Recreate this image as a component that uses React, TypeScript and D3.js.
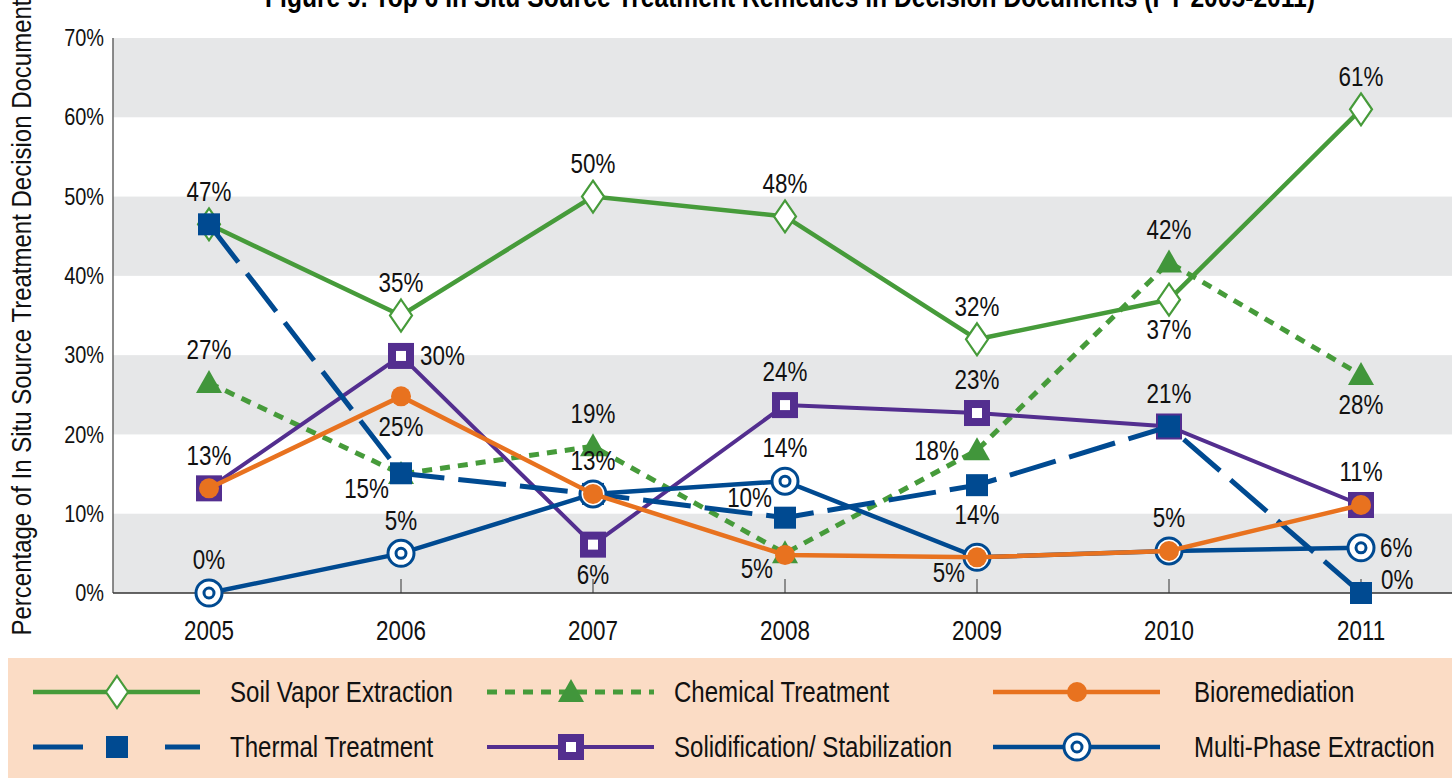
import React from "react"
import * as d3 from "d3"

// categories / ticks
const years = ["2005", "2006", "2007", "2008", "2009", "2010", "2011"]
const yTicks = [0, 10, 20, 30, 40, 50, 60, 70]

// series values (percent), point labels and where each label sits
const sveValues = [46.5, 35, 50, 47.5, 32, 37, 61]
const sveLabels = ["47%", "35%", "50%", "48%", "32%", "37%", "61%"]
const sveLabelPos = ["t", "t", "t", "t", "t", "b", "t"]

const chemValues = [26.5, 15, 18.5, 5, 18, 41.7, 27.5]
const chemLabels = ["27%", "15%", "19%", "5%", "18%", "42%", "28%"]
const chemLabelPos = ["t", "lb", "t", "lb", "l", "t", "b"]

const bioValues = [13.2, 24.8, 12.5, 4.8, 4.5, 5.3, 11.1]
const bioLabels = ["13%", "25%", "13%", null, "5%", null, null]
const bioLabelPos = ["t", "b", "t", null, "lb", null, null]

const thermalValues = [46.5, 15.1, 12.5, 9.5, 13.6, 21, 0]
const thermalLabels = [null, null, null, "10%", "14%", null, "0%"]
const thermalLabelPos = [null, null, null, "lt", "b", null, "rt"]

const solidValues = [13.2, 29.9, 6.1, 23.7, 22.7, 21, 11.1]
const solidLabels = [null, "30%", "6%", "24%", "23%", "21%", "11%"]
const solidLabelPos = [null, "r", "b", "t", "t", "t", "t"]

const mpeValues = [0, 5, 12.5, 14.1, 4.5, 5.3, 5.7]
const mpeLabels = ["0%", "5%", null, "14%", null, "5%", "6%"]
const mpeLabelPos = ["t", "t", null, "t", null, "t", "r"]

const W = 1452
const H = 778
const margin = { top: 38, left: 113, bottom: 593, right: 1457 }
const FONT = "'Liberation Sans', Arial, sans-serif"
const SX = 0.83 // horizontal squeeze to mimic a condensed face

const GREEN = "#469b3a"
const ORANGE = "#e8721f"
const BLUE = "#004a91"
const PURPLE = "#532e8f"

type Series = {
  name: string
  values: number[]
  labels: (string | null)[]
  labelPos: (string | null)[]
  color: string
  width: number
  dash?: string
  marker: string
}

const series: Record<string, Series> = {
  sve: { name: "Soil Vapor Extraction", values: sveValues, labels: sveLabels, labelPos: sveLabelPos, color: GREEN, width: 4.5, marker: "diamond" },
  chem: { name: "Chemical Treatment", values: chemValues, labels: chemLabels, labelPos: chemLabelPos, color: GREEN, width: 5, dash: "10 8", marker: "triangle" },
  bio: { name: "Bioremediation", values: bioValues, labels: bioLabels, labelPos: bioLabelPos, color: ORANGE, width: 4.5, marker: "circle" },
  thermal: { name: "Thermal Treatment", values: thermalValues, labels: thermalLabels, labelPos: thermalLabelPos, color: BLUE, width: 5, dash: "48 14", marker: "square" },
  solid: { name: "Solidification/ Stabilization", values: solidValues, labels: solidLabels, labelPos: solidLabelPos, color: PURPLE, width: 4, marker: "squareHollow" },
  mpe: { name: "Multi-Phase Extraction", values: mpeValues, labels: mpeLabels, labelPos: mpeLabelPos, color: BLUE, width: 4.5, marker: "bullseye" },
}

const drawOrder = ["sve", "chem", "solid", "thermal", "mpe", "bio"]
const legendRows = [["sve", "chem", "bio"], ["thermal", "solid", "mpe"]]

// condensed text: squeezed horizontally around its anchor point
const CText = ({ x, y, size, anchor = "start", weight, children }: any) => (
  <text
    transform={`translate(${x},${y}) scale(${SX},1)`}
    textAnchor={anchor}
    dominantBaseline="central"
    fontSize={size}
    fontWeight={weight}
    fill="#111"
  >
    {children}
  </text>
)

const Marker = ({ type, x, y, color }: { type: string; x: number; y: number; color: string }) => {
  if (type === "diamond")
    return <path d={`M${x},${y - 16} L${x + 11},${y} L${x},${y + 16} L${x - 11},${y} Z`} fill="#fff" stroke={color} strokeWidth={2.2} />
  if (type === "triangle")
    return <path d={`M${x},${y - 13} L${x + 13},${y + 10} L${x - 13},${y + 10} Z`} fill="#41963b" />
  if (type === "circle") return <circle cx={x} cy={y} r={10} fill={color} />
  if (type === "square") return <rect x={x - 11} y={y - 11} width={22} height={22} fill={color} />
  if (type === "squareHollow")
    return (
      <g>
        <rect x={x - 13} y={y - 13} width={26} height={26} fill={color} />
        <rect x={x - 5} y={y - 5} width={10} height={10} fill="#fff" />
      </g>
    )
  return (
    <g>
      <circle cx={x} cy={y} r={13} fill="#fff" stroke={color} strokeWidth={3} />
      <circle cx={x} cy={y} r={5} fill="#fff" stroke={color} strokeWidth={3} />
    </g>
  )
}

const labelOffset = (pos: string): [number, number, string] => {
  switch (pos) {
    case "t": return [0, -33, "middle"]
    case "b": return [0, 30, "middle"]
    case "r": return [19, 0, "start"]
    case "l": return [-18, 0, "end"]
    case "lb": return [-12, 15, "end"]
    case "lt": return [-13, -20, "end"]
    case "rt": return [20, -13, "start"]
    default: return [0, 0, "middle"]
  }
}

const App = () => {
  const x = d3.scalePoint<string>().domain(years).range([margin.left, margin.right]).padding(0.5)
  const y = d3.scaleLinear().domain([0, 70]).range([margin.bottom, margin.top])
  const line = d3
    .line<number>()
    .x((_, i) => x(years[i]) as number)
    .y((d) => y(d))

  const bands = d3.range(0, 70, 20)

  return (
    <svg width={W} height={H} style={{ position: "absolute", left: 0, top: 0 }} fontFamily={FONT}>
      <rect width={W} height={H} fill="#fff" />
      {/* title, mostly cropped at the top edge */}
      <text x={790} y={7} textAnchor="middle" fontSize={30} fontWeight="bold" textLength={1050} lengthAdjust="spacingAndGlyphs">
        Figure 9. Top 6 In Situ Source Treatment Remedies in Decision Documents (FY 2005-2011)
      </text>

      {/* grey bands */}
      {bands.map((b) => (
        <rect key={b} x={margin.left} y={y(b + 10)} width={W - margin.left} height={y(b) - y(b + 10)} fill="#e6e7e8" />
      ))}

      {/* axes */}
      <line x1={margin.left} x2={margin.left} y1={margin.top} y2={margin.bottom} stroke="#666" strokeWidth={1.5} />
      <line x1={margin.left} x2={W} y1={margin.bottom} y2={margin.bottom} stroke="#333" strokeWidth={1.5} />
      {years.map((yr) => (
        <g key={yr}>
          <line x1={x(yr)} x2={x(yr)} y1={margin.bottom} y2={margin.bottom - 14} stroke="#333" strokeWidth={1} />
          <CText x={x(yr)} y={631} size={27} anchor="middle">
            {yr}
          </CText>
        </g>
      ))}
      {yTicks.map((t) => (
        <CText key={t} x={104} y={y(t)} size={24} anchor="end">
          {t}%
        </CText>
      ))}
      <text
        transform={`translate(21, ${(margin.top + margin.bottom) / 2 - 4}) rotate(-90)`}
        textAnchor="middle"
        dominantBaseline="central"
        fontSize={28}
        textLength={648}
        lengthAdjust="spacingAndGlyphs"
        fill="#111"
      >
        Percentage of In Situ Source Treatment Decision Documents
      </text>

      {/* series */}
      {drawOrder.map((k) => {
        const s = series[k]
        return (
          <g key={k}>
            <path d={line(s.values) ?? ""} fill="none" stroke={s.color} strokeWidth={s.width} strokeDasharray={s.dash} />
            {s.values.map((v, i) => (
              <Marker key={i} type={s.marker} x={x(years[i]) as number} y={y(v)} color={s.color} />
            ))}
          </g>
        )
      })}

      {/* point labels */}
      {drawOrder.map((k) => {
        const s = series[k]
        return s.values.map((v, i) => {
          const lab = s.labels[i]
          const pos = s.labelPos[i]
          if (!lab || !pos) return null
          const [dx, dy, anchor] = labelOffset(pos)
          return (
            <CText key={k + i} x={(x(years[i]) as number) + dx} y={y(v) + dy} size={27} anchor={anchor}>
              {lab}
            </CText>
          )
        })
      })}

      {/* legend */}
      <rect x={8} y={658} width={W - 8} height={H - 658} fill="#fbdcc5" />
      {legendRows.map((row, r) =>
        row.map((k, c) => {
          const s = series[k]
          const lx = [33, 487, 993][c]
          const tx = [230, 674, 1194][c]
          const ly = 692 + r * 55
          return (
            <g key={k}>
              <line
                x1={lx}
                x2={lx + 167}
                y1={ly}
                y2={ly}
                stroke={s.color}
                strokeWidth={s.width}
                strokeDasharray={k === "thermal" ? "50 82 40" : s.dash}
              />
              <Marker type={s.marker} x={lx + 84} y={ly} color={s.color} />
              <CText x={tx} y={ly} size={29}>
                {s.name}
              </CText>
            </g>
          )
        })
      )}
    </svg>
  )
}

export default App
